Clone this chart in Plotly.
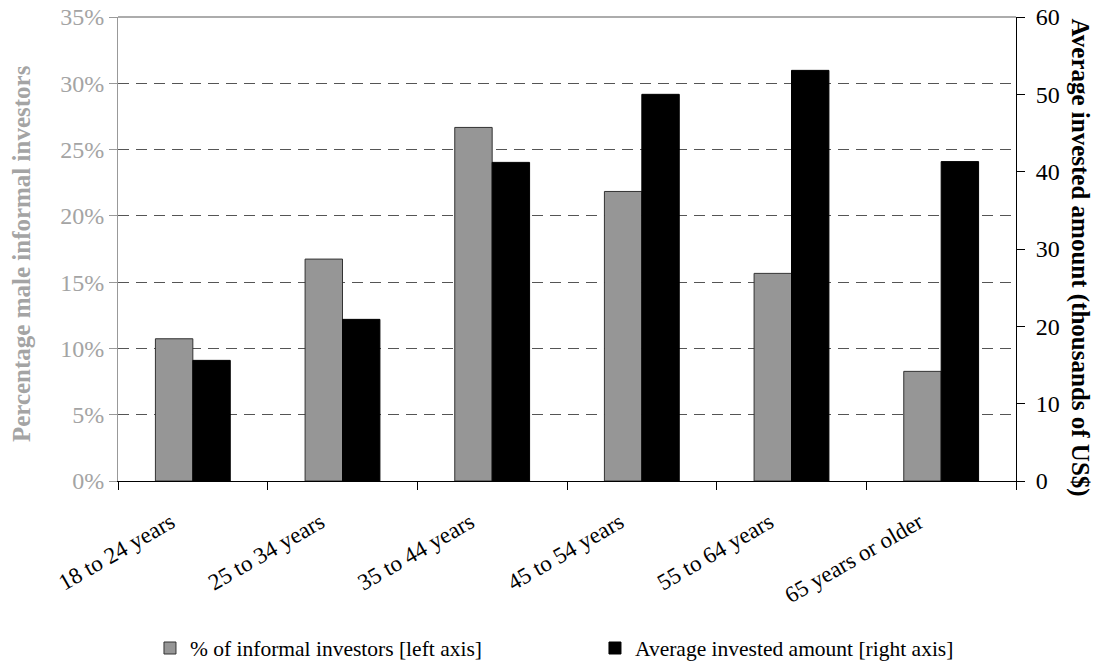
import plotly.graph_objects as go

# Age bands of male informal investors
age_groups = ["18 to 24 years", "25 to 34 years", "35 to 44 years",
              "45 to 54 years", "55 to 64 years", "65 years or older"]
# Share of men who are informal investors (fraction)
pct_informal = [0.1073, 0.1674, 0.2667, 0.2184, 0.1566, 0.0827]
# Average invested amount, thousands of US$
avg_amount = [15.6, 20.9, 41.2, 50.0, 53.1, 41.3]

left_ticks = [0, 0.05, 0.10, 0.15, 0.20, 0.25, 0.30, 0.35]
left_tick_text = ["0%", "5%", "10%", "15%", "20%", "25%", "30%", "35%"]
right_ticks = [0, 10, 20, 30, 40, 50, 60]

FONT = "Liberation Serif, Times New Roman, serif"
GREY_TXT = "#a4a4a4"

fig = go.Figure()
fig.add_trace(go.Bar(
    x=age_groups, y=pct_informal, name="% of informal investors [left axis]",
    marker=dict(color="#969696", line=dict(color="#333333", width=1)),
    width=0.25, offset=-0.25, yaxis="y",
))
fig.add_trace(go.Bar(
    x=age_groups, y=avg_amount, name="Average invested amount [right axis]",
    marker=dict(color="#000000", line=dict(color="#000000", width=1)),
    width=0.25, offset=0.0, yaxis="y2",
))

fig.update_layout(
    width=1098, height=663,
    margin=dict(l=118, r=82, t=17, b=182, autoexpand=False),
    paper_bgcolor="white", plot_bgcolor="white",
    font=dict(family=FONT, size=23, color="black"),
    showlegend=True,
    legend=dict(orientation="h", x=0.0356, xanchor="left", y=-0.36, yanchor="middle",
                font=dict(family=FONT, size=21.5, color="black"),
                entrywidth=400, itemwidth=30),
    xaxis=dict(
        type="category", range=[-0.5, 5.5], automargin=False,
        showline=True, linecolor="black", linewidth=1,
        ticks="outside", tickson="boundaries", ticklen=8, tickcolor="black",
        tickangle=-30, showgrid=False, ticklabelstandoff=18, ticklabelshift=-22,
        tickfont=dict(family=FONT, size=23, color="black"),
    ),
    yaxis=dict(
        range=[0, 0.35], tickvals=left_ticks, ticktext=left_tick_text, automargin=False,
        showline=True, linecolor="#999999", linewidth=1,
        ticks="outside", ticklen=8, tickcolor="#999999",
        tickfont=dict(family=FONT, size=24, color=GREY_TXT),
        showgrid=True, gridcolor="#555555", gridwidth=1, griddash="11px,7px",
        zeroline=False,
    ),
    yaxis2=dict(
        range=[0, 60], tickvals=right_ticks, overlaying="y", side="right", automargin=False,
        showline=True, linecolor="black", linewidth=1,
        ticks="outside", ticklen=8, tickcolor="black", ticklabelstandoff=6,
        tickfont=dict(family=FONT, size=24, color="black"),
        showgrid=False, zeroline=False,
    ),
    shapes=[dict(type="line", xref="paper", yref="paper", x0=0, x1=1, y0=1, y1=1,
                 line=dict(color="#909090", width=1.5))],
    annotations=[
        dict(text="<b>Percentage male informal investors</b>", textangle=-90,
             xref="paper", yref="paper", x=-0.108, y=0.489, xanchor="center", yanchor="middle",
             showarrow=False, font=dict(family=FONT, size=25, color=GREY_TXT)),
        dict(text="<b>Average invested amount (thousands of US$)</b>", textangle=90,
             xref="paper", yref="paper", x=1.071, y=0.482, xanchor="center", yanchor="middle",
             showarrow=False, font=dict(family=FONT, size=25, color="black")),
    ],
)

fig.write_html("out.html")
